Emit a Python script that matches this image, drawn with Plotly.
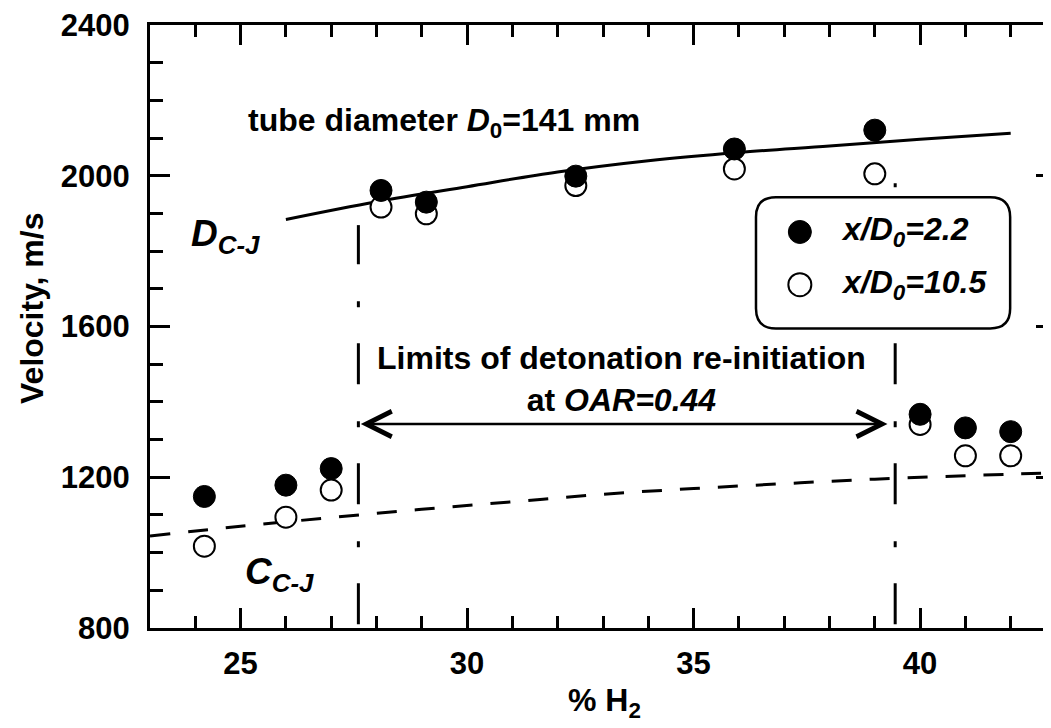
import plotly.graph_objects as go

# ---- data ----
h2 = [24.2, 26.0, 27.0, 28.1, 29.1, 32.4, 35.9, 39.0, 40.0, 41.0, 42.0]
vel_near = [1149, 1179, 1223, 1961, 1930, 1999, 2071, 2121, 1367, 1331, 1321]   # x/D0=2.2
vel_far = [1017, 1094, 1166, 1917, 1899, 1974, 2018, 2005, 1340, 1257, 1257]    # x/D0=10.5

dcj_h2 = [26, 28, 30, 32, 34, 36, 38, 40, 42]
dcj_vel = [1884, 1931, 1971, 2010, 2040, 2062, 2079, 2097, 2113]

ccj_h2 = [23, 25, 27, 29, 31, 33, 35, 37, 39, 41, 43]
ccj_vel = [1044, 1070, 1093, 1115, 1135, 1155, 1170, 1183, 1195, 1204, 1212]

limit_h2 = [27.6, 39.45]
limit_top = [1869, 1980]
limit_bottom = 810
arrow_vel = 1341
arrow_ends = [27.62, 39.28]

x_ticks = [25, 30, 35, 40]
y_ticks = [800, 1200, 1600, 2000, 2400]

# ---- layout geometry (screen pixels; the page body adds an 8px offset) ----
OFF = 8
W, H = 1051, 728
SCR_L, SCR_T, SCR_B, SCR_R = 150, 22, 628, 1059
L = SCR_L - OFF
T = SCR_T - OFF
PW = SCR_R - SCR_L
PH = SCR_B - SCR_T
R = W - L - PW
B = H - T - PH
X0, X1 = 23.0, 43.0
Y0, Y1 = 800, 2400

FONT = "Liberation Sans, Arial, sans-serif"


def px2x(px):
    return X0 + (px - SCR_L) * (X1 - X0) / PW


def px2y(py):
    return Y1 - (py - SCR_T) * (Y1 - Y0) / PH


def pfx(px):
    return (px - SCR_L) / PW


def pfy(py):
    return (SCR_B - py) / PH


fig = go.Figure()

# Chapman-Jouguet detonation velocity (solid)
fig.add_trace(go.Scatter(x=dcj_h2, y=dcj_vel, mode="lines", line=dict(color="black", width=3, shape="spline"),
                         showlegend=False, hoverinfo="skip"))
# C-J sound speed (dashed)
fig.add_trace(go.Scatter(x=ccj_h2, y=ccj_vel, mode="lines",
                         line=dict(color="black", width=3, dash="20px,18px", shape="spline"),
                         showlegend=False, hoverinfo="skip"))
# limit lines (dash-dot)
for xv, top in zip(limit_h2, limit_top):
    fig.add_trace(go.Scatter(x=[xv, xv], y=[limit_bottom, top], mode="lines",
                             line=dict(color="black", width=3, dash="41px,36px,6px,37px"),
                             showlegend=False, hoverinfo="skip"))

# data points
fig.add_trace(go.Scatter(x=h2, y=vel_far, mode="markers", name="x/D0=10.5",
                         marker=dict(symbol="circle", size=21, color="white", line=dict(color="black", width=2)),
                         showlegend=False))
fig.add_trace(go.Scatter(x=h2, y=vel_near, mode="markers", name="x/D0=2.2",
                         marker=dict(symbol="circle", size=22, color="black", line=dict(color="black", width=1)),
                         showlegend=False))

shapes = []
# rounded legend box
bx0, bx1, by0, by1, r = 758, 1013, 195, 327, 20
rx, ry = r / PW, r / PH
x0, x1, y0, y1 = pfx(bx0), pfx(bx1), pfy(by1), pfy(by0)
path = (f"M {x0+rx},{y0} L {x1-rx},{y0} Q {x1},{y0} {x1},{y0+ry} L {x1},{y1-ry} Q {x1},{y1} {x1-rx},{y1} "
        f"L {x0+rx},{y1} Q {x0},{y1} {x0},{y1-ry} L {x0},{y0+ry} Q {x0},{y0} {x0+rx},{y0} Z")
shapes.append(dict(type="path", xref="paper", yref="paper", path=path, fillcolor="white",
                   line=dict(color="black", width=2.5), layer="above"))
for cy, fill, lw in [(230, "black", 1), (283, "white", 2)]:
    shapes.append(dict(type="circle", xref="x", yref="y", xsizemode="pixel", ysizemode="pixel",
                       xanchor=px2x(802), yanchor=px2y(cy), x0=-11.5, x1=11.5, y0=-11.5, y1=11.5,
                       fillcolor=fill, line=dict(color="black", width=lw), layer="above"))

bold = dict(family=FONT, size=32, color="black", weight="bold")
big = dict(family=FONT, size=37, color="black", weight="bold")

annotations = [
    dict(x=px2x(246), y=px2y(120), xanchor="left", yanchor="middle", showarrow=False,
         text="tube diameter <i>D</i><sub>0</sub>=141 mm", font=bold),
    dict(x=px2x(189), y=px2y(234), xanchor="left", yanchor="middle", showarrow=False,
         text="<i>D</i><sub><i>C-J</i></sub>", font=big),
    dict(x=px2x(243), y=px2y(574), xanchor="left", yanchor="middle", showarrow=False,
         text="<i>C</i><sub><i>C-J</i></sub>", font=big),
    dict(x=px2x(623), y=px2y(378), xanchor="center", yanchor="middle", showarrow=False,
         text="Limits of detonation re-initiation<br>at <i>OAR=0.44</i>", font=bold),
    dict(x=arrow_ends[1], y=arrow_vel, ax=arrow_ends[0], ay=arrow_vel, axref="x", ayref="y", xref="x", yref="y",
         text="", showarrow=True, arrowside="end+start", arrowhead=5, startarrowhead=5, arrowsize=2,
         startarrowsize=2, arrowwidth=2.5, arrowcolor="black", standoff=0, startstandoff=0),
    dict(x=px2x(841), y=px2y(230), xanchor="left", yanchor="middle", showarrow=False,
         text="<i>x/D<sub>0</sub>=2.2</i>", font=bold),
    dict(x=px2x(841), y=px2y(283), xanchor="left", yanchor="middle", showarrow=False,
         text="<i>x/D<sub>0</sub>=10.5</i>", font=bold),
    dict(xref="paper", yref="paper", x=pfx(31), y=pfy(306), xanchor="center", yanchor="middle",
         showarrow=False, textangle=-90, text="Velocity, m/s", font=bold),
    dict(xref="paper", yref="paper", x=pfx(606), y=pfy(703), xanchor="center", yanchor="middle",
         showarrow=False, text="% H<sub>2</sub>", font=bold),
]

tickfont = dict(family=FONT, size=31, color="black", weight="bold")

fig.update_layout(
    width=W, height=H, autosize=False,
    margin=dict(l=L, r=R, t=T, b=B, pad=0),
    paper_bgcolor="white", plot_bgcolor="white",
    showlegend=False,
    xaxis=dict(range=[X0, X1], tickvals=x_ticks, ticks="inside", ticklen=20, tickwidth=3, tickcolor="black",
               showline=True, linewidth=3, linecolor="black", mirror="allticks",
               minor=dict(ticks="inside", ticklen=12, tickwidth=3, tickcolor="black", dtick=1, tick0=23),
               showgrid=False, zeroline=False, tickfont=tickfont, ticklabelstandoff=6,
               ticklabeloverflow="allow"),
    yaxis=dict(range=[Y0, Y1], tickvals=y_ticks, ticks="inside", ticklen=20, tickwidth=3, tickcolor="black",
               showline=True, linewidth=3, linecolor="black", mirror="allticks",
               minor=dict(ticks="inside", ticklen=13, tickwidth=3, tickcolor="black", dtick=100, tick0=800),
               showgrid=False, zeroline=False, tickfont=tickfont, ticklabelstandoff=11,
               ticklabeloverflow="allow"),
    shapes=shapes,
    annotations=annotations,
    font=dict(family=FONT, color="black"),
)

fig.write_html("out.html", config={"displayModeBar": False})
